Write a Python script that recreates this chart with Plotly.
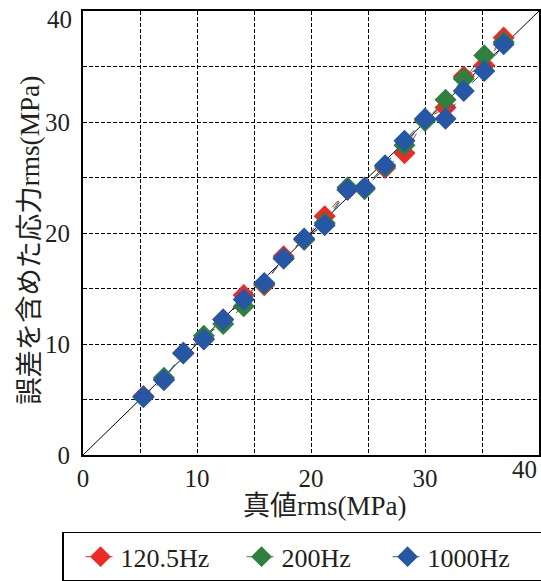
import plotly.graph_objects as go

# True rms stress (MPa) at each measurement point
true_rms = [5.3, 7.1, 8.8, 10.6, 12.3, 14.1, 15.9, 17.6, 19.4, 21.2,
            23.2, 24.7, 26.5, 28.2, 30.0, 31.8, 33.4, 35.2, 36.9]

# rms stress including error (MPa), one list per frequency
rms_120_5hz = [5.3, 6.8, 9.2, 10.5, 12.2, 14.4, 15.3, 17.9, 19.4, 21.5,
               23.9, 24.0, 25.85, 27.2, 30.2, 31.3, 34.1, 35.1, 37.6]
rms_200hz = [5.2, 6.95, 9.15, 10.75, 11.8, 13.4, 15.4, 17.7, 19.4, 20.9,
             24.1, 23.95, 26.0, 27.9, 30.1, 32.0, 33.9, 36.0, 37.2]
rms_1000hz = [5.25, 6.75, 9.2, 10.4, 12.2, 14.0, 15.5, 17.7, 19.5, 20.7,
              23.9, 24.1, 26.1, 28.3, 30.3, 30.3, 32.8, 34.6, 37.0]

series_names = ["120.5Hz", "200Hz", "1000Hz"]
series_colors = ["#ee2a24", "#317f3f", "#2557a5"]
legend_widths = [99, 84, 120]

axis_range = [0, 40]
tick_values = [0, 10, 20, 30]
top_tick_label = "40"

x_title = "真値rms(MPa)"
y_title = "誤差を含めた応力rms(MPa)"

SERIF = "Liberation Serif"
FONT = "Liberation Serif, Noto Sans CJK JP, serif"
TEXT_COLOR = "#231f20"
GRID_DASH = "4px,2px"

fig = go.Figure()

# 1:1 reference line across the full axis range
fig.add_trace(go.Scatter(
    x=axis_range, y=axis_range, mode="lines",
    line=dict(color="black", width=1), showlegend=False, hoverinfo="skip",
))

for name, color, values, lw in zip(series_names, series_colors,
                                   [rms_120_5hz, rms_200hz, rms_1000hz],
                                   legend_widths):
    fig.add_trace(go.Scatter(
        x=true_rms, y=values, name=name, mode="lines+markers",
        line=dict(color=color, width=1, dash="dash"),
        marker=dict(symbol="diamond", size=17, color=color,
                    line=dict(width=0)),
        legendwidth=lw,
    ))

axis_common = dict(
    range=axis_range,
    tickvals=tick_values,
    showline=True, mirror=True, linecolor="black", linewidth=2,
    showgrid=True, gridcolor="black", gridwidth=1.2, griddash=GRID_DASH,
    minor=dict(dtick=5, tick0=0, showgrid=True, gridcolor="black",
               gridwidth=1.2, griddash=GRID_DASH),
    zeroline=False, ticks="",
    tickfont=dict(family=SERIF, size=25, color=TEXT_COLOR),
)

fig.update_xaxes(**axis_common, ticklabelstandoff=0)
fig.update_yaxes(**axis_common, ticklabelstandoff=6)

annotations = [
    # end-of-axis labels kept inside the figure edge
    dict(text=top_tick_label, x=axis_range[1], xref="x", xanchor="right",
         y=0.002, yref="paper", yanchor="top", showarrow=False,
         font=dict(family=SERIF, size=25, color=TEXT_COLOR)),
    dict(text=top_tick_label, x=-0.02, xref="paper", xanchor="right",
         y=axis_range[1], yref="y", yanchor="top", yshift=7,
         showarrow=False,
         font=dict(family=SERIF, size=25, color=TEXT_COLOR)),
    # axis titles
    dict(text=x_title, x=0.53, xref="paper", xanchor="center",
         y=-0.115, yref="paper", yanchor="middle", showarrow=False,
         font=dict(family=FONT, size=27, color=TEXT_COLOR)),
    dict(text=y_title, x=-0.118, xref="paper", xanchor="center",
         y=0.483, yref="paper", yanchor="middle", showarrow=False,
         textangle=-90,
         font=dict(family=FONT, size=27.3, color=TEXT_COLOR)),
]

fig.update_layout(
    width=541, height=581,
    margin=dict(l=83, r=2, t=11, b=126, autoexpand=False),
    paper_bgcolor="white", plot_bgcolor="white",
    annotations=annotations,
    legend=dict(
        orientation="h", x=-0.046, xanchor="left", y=-0.173, yanchor="top",
        bordercolor="black", borderwidth=1.5, bgcolor="white",
        font=dict(family=SERIF, size=26, color=TEXT_COLOR),
        indentation=17,
    ),
    showlegend=True,
)

fig.write_html("out.html")
